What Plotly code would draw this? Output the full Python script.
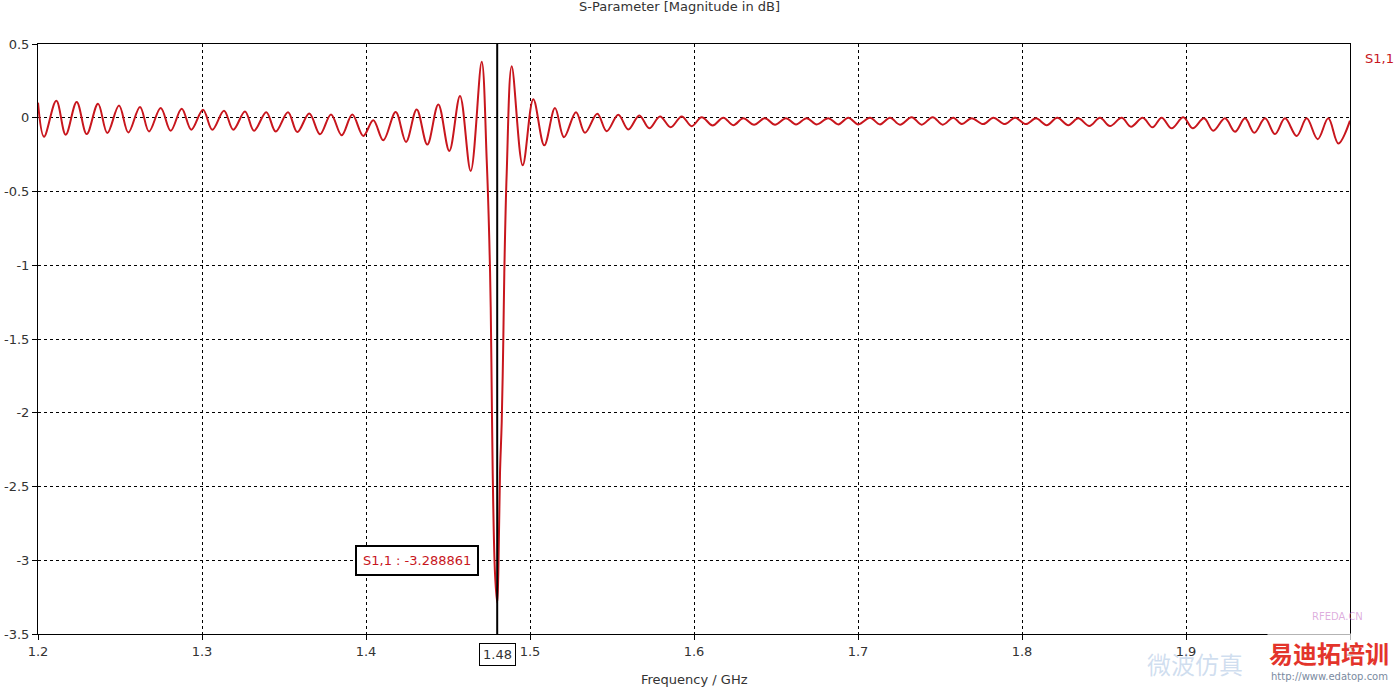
import plotly.graph_objects as go

# Local extrema (and dip samples) of S1,1
freq_ghz = [
    1.2000, 1.20366, 1.21116, 1.21689, 1.22360, 1.22970, 1.23659, 1.24226, 1.24939, 1.25506,
    1.26220, 1.26768, 1.27482, 1.28091, 1.28762, 1.29348, 1.30061, 1.30628, 1.31341, 1.31909,
    1.32622, 1.33171, 1.33921, 1.34494, 1.35244, 1.35811, 1.36543, 1.37195, 1.37866, 1.38518,
    1.39165, 1.39835, 1.40445, 1.41055, 1.41811, 1.42439, 1.43091, 1.43738, 1.44409, 1.45079,
    1.45732, 1.46384, 1.47055,
    1.47360, 1.47518, 1.47604, 1.47665, 1.47726, 1.47866, 1.48000,
    1.48067, 1.48171, 1.48274, 1.48372, 1.48433, 1.48579,
    1.48884, 1.49555, 1.50201, 1.50872, 1.51524, 1.52073, 1.52805, 1.53354, 1.54104, 1.54677,
    1.55384, 1.55994, 1.56665, 1.57274, 1.57927, 1.58579, 1.59250, 1.59860, 1.60470, 1.61140,
    1.61787, 1.62396, 1.63006, 1.63659, 1.64329, 1.64939, 1.65610, 1.66220, 1.66872, 1.67482,
    1.68189, 1.68799, 1.69409, 1.70018, 1.70732, 1.71341, 1.71951, 1.72561, 1.73274, 1.73884,
    1.74555, 1.75165, 1.75811, 1.76323, 1.76933, 1.77640, 1.78250, 1.78963, 1.79573, 1.80244,
    1.80854, 1.81506, 1.82152, 1.82823, 1.83433, 1.84104, 1.84756, 1.85366, 1.86079, 1.86646,
    1.87360, 1.87957, 1.88518, 1.89128, 1.89835, 1.90409, 1.91098, 1.91665, 1.92378, 1.92988,
    1.93598, 1.94165, 1.94817, 1.95427, 1.96037, 1.96750, 1.97360, 1.98030, 1.98677, 1.99287,
    2.0000,
]
s11_db = [
    0.102, -0.129, 0.115, -0.115, 0.107, -0.111, 0.095, -0.104, 0.083, -0.100,
    0.073, -0.093, 0.066, -0.088, 0.061, -0.081, 0.054, -0.081, 0.047, -0.081,
    0.043, -0.088, 0.038, -0.093, 0.038, -0.097, 0.028, -0.112, 0.022, -0.119,
    0.022, -0.123, -0.017, -0.153, 0.039, -0.164, 0.056, -0.182, 0.090, -0.225,
    0.148, -0.361, 0.379,
    -0.285, -0.828, -1.283, -1.846, -2.410, -3.088, -3.288861,
    -3.088, -2.410, -2.070, -1.510, -1.055, -0.376,
    0.350, -0.322, 0.126, -0.187, 0.066, -0.132, 0.038, -0.102, 0.027, -0.091,
    0.020, -0.079, 0.016, -0.071, 0.009, -0.064, 0.009, -0.057, 0.004, -0.052,
    0.000, -0.050, -0.003, -0.047, -0.003, -0.047, -0.003, -0.045, -0.003, -0.045,
    -0.003, -0.045, 0.000, -0.045, 0.000, -0.045, 0.000, -0.047, 0.004, -0.047,
    0.004, -0.047, 0.000, -0.043, -0.004, -0.043, 0.000, -0.043, 0.000, -0.043,
    -0.004, -0.050, 0.000, -0.050, -0.004, -0.056, 0.000, -0.056, 0.000, -0.061,
    0.000, -0.065, 0.000, -0.072, 0.003, -0.072, -0.004, -0.088, -0.004, -0.095,
    -0.004, -0.102, -0.004, -0.111, -0.004, -0.124, -0.004, -0.145, -0.004, -0.174,
    -0.020,
]

x_tickvals = [1.2, 1.3, 1.4, 1.5, 1.6, 1.7, 1.8, 1.9, 2.0]
x_ticktext = ["1.2", "1.3", "1.4", "1.5", "1.6", "1.7", "1.8", "1.9", "2"]
y_tickvals = [0.5, 0, -0.5, -1, -1.5, -2, -2.5, -3, -3.5]
y_ticktext = ["0.5", "0", "-0.5", "-1", "-1.5", "-2", "-2.5", "-3", "-3.5"]

marker_freq = 1.48
marker_value = -3.288861

RED = "#c8161d"
TXT = "#333333"
FONT = "DejaVu Sans"

fig = go.Figure()
fig.add_trace(go.Scatter(
    x=freq_ghz, y=s11_db, mode="lines", name="S1,1",
    line=dict(color=RED, width=2, shape="spline", smoothing=1.0),
    hoverinfo="skip",
))

axis_common = dict(
    showline=True, linecolor="black", linewidth=1, mirror=True,
    showgrid=True, gridcolor="black", gridwidth=1, griddash="3px,3px",
    ticks="outside", ticklen=5, tickcolor="black",
    tickfont=dict(family=FONT, size=13, color=TXT),
    zeroline=False, automargin=False,
)

fig.update_layout(
    width=1394, height=687, autosize=False,
    paper_bgcolor="white", plot_bgcolor="white",
    margin=dict(l=38, r=44, t=44, b=53, autoexpand=False),
    showlegend=False,
    xaxis=dict(range=[1.2, 2.0], tickvals=x_tickvals, ticktext=x_ticktext, **axis_common),
    yaxis=dict(range=[-3.5, 0.5], tickvals=y_tickvals, ticktext=y_ticktext, **axis_common),
)

# marker line
fig.add_shape(type="line", xref="x", yref="paper", x0=marker_freq, x1=marker_freq,
              y0=0, y1=1, line=dict(color="black", width=2))

# titles & annotations
fig.add_annotation(text="S-Parameter [Magnitude in dB]", xref="paper", yref="paper",
                   x=(679 - 38) / 1312, y=1, yshift=28, xanchor="center", yanchor="bottom",
                   showarrow=False, font=dict(family=FONT, size=13, color=TXT))
fig.add_annotation(text="Frequency / GHz", xref="paper", yref="paper",
                   x=(694 - 38) / 1312, y=0, yshift=-36, xanchor="center", yanchor="top",
                   showarrow=False, font=dict(family=FONT, size=13, color=TXT))
fig.add_annotation(text="S1,1", xref="paper", yref="paper", x=1, xshift=13, y=1, yshift=-5,
                   xanchor="left", yanchor="top", showarrow=False,
                   font=dict(family=FONT, size=13, color=RED))
fig.add_annotation(text="S1,1 : -3.288861", xref="x", yref="y", x=marker_freq, y=-3.0,
                   xanchor="right", yanchor="middle", xshift=-18, showarrow=False,
                   font=dict(family=FONT, size=13, color=RED), bgcolor="white",
                   bordercolor="black", borderwidth=2, borderpad=6)
fig.add_annotation(text="1.48", xref="x", yref="paper", x=marker_freq, y=0, yshift=-9,
                   xanchor="center", yanchor="top", showarrow=False,
                   font=dict(family=FONT, size=13, color=TXT), bgcolor="white",
                   bordercolor="black", borderwidth=1, borderpad=3)

# watermark-like texts
fig.add_annotation(text="微波仿真", xref="paper", yref="paper", x=(1195 - 38) / 1312, y=0, yshift=-10,
                   xanchor="center", yanchor="top", showarrow=False,
                   font=dict(family="Noto Sans CJK SC", size=24, color="rgba(120,160,210,0.35)"))
fig.add_annotation(text="RFEDA.CN", xref="paper", yref="paper", x=(1337 - 38) / 1312, y=0, yshift=25,
                   xanchor="center", yanchor="top", showarrow=False,
                   font=dict(family=FONT, size=10, color="rgba(200,120,200,0.6)"))
fig.add_annotation(text="<b>易迪拓培训</b>", xref="paper", yref="paper", x=(1329 - 38) / 1312, y=0, yshift=1,
                   xanchor="center", yanchor="top", showarrow=False, bgcolor="rgba(255,255,255,0.7)",
                   font=dict(family="Noto Sans CJK SC", size=24, color="#e3342b"))
fig.add_annotation(text="http://www.edatop.com", xref="paper", yref="paper", x=(1329 - 38) / 1312, y=0,
                   yshift=-35, xanchor="center", yanchor="top", showarrow=False,
                   font=dict(family=FONT, size=10, color="#7a8aa0"))

fig.write_html("out.html", config={"displayModeBar": False},
               post_script="document.body.style.margin='0px';document.body.style.overflow='hidden';")
